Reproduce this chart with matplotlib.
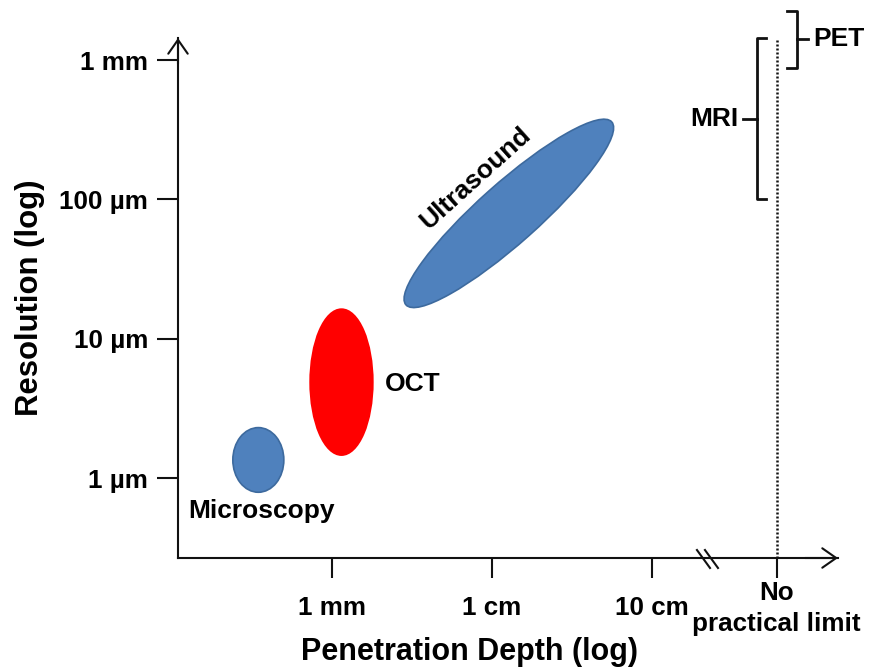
import numpy as np
import matplotlib
matplotlib.use('Agg')
import matplotlib.pyplot as plt
from matplotlib.patches import Ellipse
from matplotlib.transforms import IdentityTransform

plt.rcParams['font.family'] = ['Liberation Sans', 'DejaVu Sans']
plt.rcParams['font.weight'] = 'bold'
plt.rcParams['axes.labelweight'] = 'bold'

# ---------------- data ----------------
x_tick_values_mm = [1, 10, 100]
x_tick_labels = ['1 mm', '1 cm', '10 cm']
no_limit_label = 'No\npractical limit'
y_tick_values_um = [1, 10, 100, 1000]
y_tick_labels = ['1 µm', '10 µm', '100 µm', '1 mm']

microscopy_depth_mm = (0.24, 0.50)
microscopy_res_um = (0.79, 2.3)
oct_depth_mm = (0.73, 1.8)
oct_res_um = (1.46, 16.3)
ultrasound_depth_mm = (2.9, 56.0)
ultrasound_res_um = (17.5, 360.0)
mri_res_um = (100, 1450)
pet_res_um = (880, 2250)

# ---------------- layout ----------------
NO_LIMIT_X = 2.78          # log-axis position of "no practical limit"
BLUE = '#4f81bd'
BLUE_EDGE = '#3d6a9e'
RED = '#ff0000'
INK = '#111111'

fig = plt.figure(figsize=(8.7, 6.68), dpi=100)
ax = fig.add_axes([178 / 870, 110 / 668, 660 / 870, 520 / 668])
ax.set_xlim(-0.9625, 3.1625)
ax.set_ylim(-0.5743, 3.1587)

for s in ('top', 'right'):
    ax.spines[s].set_visible(False)
for s in ('left', 'bottom'):
    ax.spines[s].set_linewidth(1.5)
    ax.spines[s].set_color(INK)

# ticks
ax.set_xticks(list(np.log10(x_tick_values_mm)) + [NO_LIMIT_X],
              x_tick_labels + [''])
ax.set_yticks(np.log10(y_tick_values_um), y_tick_labels)
ax.tick_params(axis='x', direction='out', length=14.4, width=1.5, color=INK,
               pad=13, labelsize=18.7)
ax.tick_params(axis='y', direction='out', length=15, width=1.5, color=INK,
               pad=6.5, labelsize=18.7)
ax.text(NO_LIMIT_X, -0.044, no_limit_label, transform=ax.get_xaxis_transform(),
        ha='center', va='top', fontsize=18.7, linespacing=1.35, clip_on=False)

# axis labels
ax.set_xlabel('Penetration Depth (log)', fontsize=22, fontweight='bold')
ax.xaxis.set_label_coords(0.442, -0.152)
ax.set_ylabel('Resolution (log)', fontsize=22.4, fontweight='bold')
ax.yaxis.set_label_coords(-0.201, 0.5)

# arrows at the axis ends
arrow = dict(arrowstyle='->,head_length=0.5,head_width=0.35', lw=1.5,
             color=INK, shrinkA=0, shrinkB=0, mutation_scale=20)
ax.annotate('', xy=(1, 0), xytext=(0.95, 0), xycoords='axes fraction',
            arrowprops=arrow, annotation_clip=False)
ax.annotate('', xy=(0, 1), xytext=(0, 0.95), xycoords='axes fraction',
            arrowprops=arrow, annotation_clip=False)

# axis break marks
for x0, x1 in [(2.281, 2.3625), (2.331, 2.4125)]:
    ax.plot([x0, x1], [-0.517, -0.646], color=INK, lw=1.5, clip_on=False)

# dotted "no practical limit" line
top_log = np.log10(mri_res_um[1])
ax.plot([NO_LIMIT_X, NO_LIMIT_X], [ax.get_ylim()[0], top_log], color=INK,
        lw=1.8, linestyle=(0, (0.8, 0.8)), clip_on=False)

# ellipses (log space)
def range_ellipse(depth, res, color, edge):
    lx, ly = np.log10(depth), np.log10(res)
    e = Ellipse(((lx[0] + lx[1]) / 2, (ly[0] + ly[1]) / 2),
                lx[1] - lx[0], ly[1] - ly[0],
                facecolor=color, edgecolor=edge, lw=1.2)
    ax.add_patch(e)

range_ellipse(microscopy_depth_mm, microscopy_res_um, BLUE, BLUE_EDGE)
range_ellipse(oct_depth_mm, oct_res_um, RED, RED)

# ultrasound: tilted ellipse between its two extreme points
pts = np.column_stack([np.log10(ultrasound_depth_mm), np.log10(ultrasound_res_um)])
disp = ax.transData.transform(pts)
c = disp.mean(axis=0)
d = disp[1] - disp[0]
length = np.hypot(*d)
ang = np.degrees(np.arctan2(d[1], d[0]))
us = Ellipse(c, length, 60, angle=ang, facecolor=BLUE, edgecolor=BLUE_EDGE,
             lw=1.2, transform=IdentityTransform())
ax.add_patch(us)

# modality labels
ax.text(-0.4375, -0.287, 'Microscopy', ha='center', va='baseline', fontsize=19)
ax.text(0.331, 0.621, 'OCT', ha='left', va='baseline', fontsize=19)
ax.text(0.895, 2.155, 'Ultrasound', ha='center', va='center', fontsize=19,
        rotation=42, rotation_mode='anchor')

# MRI bracket
m0, m1 = np.log10(mri_res_um)
mm = (m0 + m1) / 2
ax.plot([2.7125, 2.656, 2.656, 2.7125], [m0, m0, m1, m1], color=INK, lw=2.0,
        clip_on=False, solid_joinstyle='round')
ax.plot([2.569, 2.656], [mm, mm], color=INK, lw=2.0, clip_on=False)
ax.text(2.5375, mm, 'MRI', ha='right', va='center', fontsize=19)

# PET bracket
p0, p1 = np.log10(pet_res_um)
pm = (p0 + p1) / 2
ax.plot([2.844, 2.906, 2.906, 2.844], [p0, p0, p1, p1], color=INK, lw=2.0,
        clip_on=False, solid_joinstyle='round')
ax.plot([2.906, 2.975], [pm, pm], color=INK, lw=2.0, clip_on=False)
ax.text(3.006, pm, 'PET', ha='left', va='center', fontsize=19, clip_on=False)

fig.savefig('out.png', dpi=100)
